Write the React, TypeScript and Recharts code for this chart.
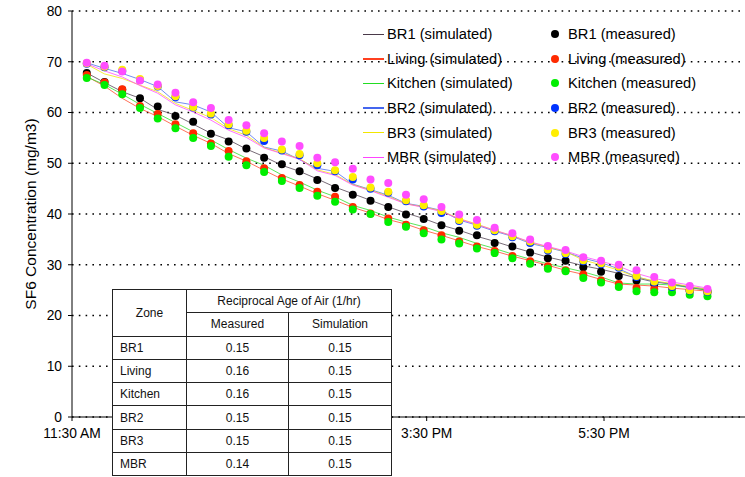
import { ComposedChart, Line, XAxis, YAxis, CartesianGrid } from "recharts";

const times = [
  "11:40", "11:52", "12:04", "12:16", "12:28", "12:40", "12:52", "13:04", "13:16", "13:28",
  "13:40", "13:52", "14:04", "14:16", "14:28", "14:40", "14:52", "15:04", "15:16", "15:28",
  "15:40", "15:52", "16:04", "16:16", "16:28", "16:40", "16:52", "17:04", "17:16", "17:28",
  "17:40", "17:52", "18:04", "18:16", "18:28", "18:40",
];

// 1:30 PM sits under the table in the original, so only the visible ones
const xTicks = ["11:30", "15:30", "17:30"];

// simulated
const br1Sim = [67.8, 65.9, 64.1, 62.8, 60.6, 59.5, 57.7, 55.9, 54.6, 52.8, 51.3, 49.6, 48.4, 46.9, 45.3, 44.0, 42.7, 41.4, 40.2, 39.1, 37.8, 36.8, 35.6, 34.6, 33.5, 32.5, 31.5, 30.7, 29.8, 29.1, 28.3, 27.4, 26.6, 26.2, 25.5, 25.0];
const livingSim = [67.1, 65.2, 62.8, 60.8, 59.2, 57.3, 55.5, 53.9, 51.9, 50.4, 48.6, 46.9, 45.5, 44.0, 42.7, 41.3, 40.2, 38.9, 38.0, 36.8, 35.8, 34.7, 33.6, 32.7, 31.7, 30.8, 29.9, 28.9, 28.1, 27.1, 26.2, 26.0, 25.8, 25.4, 25.1, 24.8];
const kitchenSim = [67.0, 65.5, 63.6, 61.6, 59.8, 58.0, 56.2, 54.6, 52.7, 51.0, 49.6, 47.7, 46.3, 44.7, 43.4, 41.7, 40.7, 39.4, 38.4, 37.5, 36.3, 35.4, 34.2, 33.2, 32.1, 31.1, 30.2, 29.4, 28.6, 27.6, 26.4, 26.2, 26.2, 26.0, 25.5, 25.0];
const br2Sim = [69.8, 68.7, 67.7, 66.5, 65.1, 62.1, 61.5, 60.1, 57.0, 56.2, 53.2, 52.4, 50.7, 49.0, 48.4, 45.9, 44.8, 43.7, 42.1, 41.5, 40.7, 38.8, 37.8, 36.6, 35.6, 34.2, 33.4, 32.5, 31.3, 30.4, 29.2, 27.6, 26.7, 26.2, 25.6, 25.2];
const br3Sim = [69.5, 67.6, 66.7, 65.4, 64.1, 61.8, 60.4, 59.0, 56.8, 55.5, 53.1, 52.0, 50.9, 48.7, 47.8, 45.8, 44.7, 43.5, 42.0, 41.4, 40.6, 39.1, 38.0, 36.8, 35.7, 34.4, 33.5, 32.6, 30.9, 30.0, 28.9, 27.6, 26.8, 26.3, 25.7, 25.2];
const mbrSim = [69.6, 68.2, 67.0, 65.3, 63.8, 61.5, 60.1, 58.5, 56.5, 55.1, 53.0, 51.9, 50.8, 48.5, 47.6, 45.7, 44.6, 43.3, 42.0, 41.3, 40.5, 39.0, 37.9, 36.8, 35.7, 34.5, 33.6, 32.7, 31.6, 30.7, 29.7, 28.3, 27.3, 26.6, 26.0, 25.4];

// measured
const br1Meas = [67.8, 66.0, 64.5, 62.8, 61.2, 59.3, 58.2, 55.8, 54.3, 52.9, 51.1, 49.8, 48.4, 46.7, 45.1, 43.8, 42.6, 41.4, 39.9, 39.0, 37.8, 36.7, 35.8, 34.3, 33.6, 32.4, 31.3, 30.8, 29.5, 28.6, 27.8, 26.9, 26.2, 25.7, 25.0, 24.8];
const livingMeas = [67.4, 65.9, 64.6, 61.3, 59.7, 57.7, 55.9, 53.9, 52.4, 50.4, 49.0, 47.1, 45.7, 44.4, 43.4, 41.4, 40.1, 39.1, 37.9, 36.8, 35.8, 34.6, 33.6, 32.7, 31.7, 30.7, 29.7, 28.9, 28.1, 26.9, 26.2, 25.4, 25.2, 25.4, 24.8, 24.5];
const kitchenMeas = [66.8, 65.4, 63.6, 60.9, 58.8, 56.9, 55.0, 53.4, 51.3, 49.6, 48.3, 46.5, 45.1, 43.6, 42.4, 40.9, 40.0, 38.4, 37.5, 36.2, 35.0, 34.2, 33.2, 32.3, 31.3, 30.2, 29.2, 28.7, 27.4, 26.5, 25.6, 24.8, 24.6, 24.6, 24.1, 23.8];
const br2Meas = [69.6, 68.9, 68.2, 66.4, 65.1, 63.0, 61.0, 59.6, 57.5, 56.2, 54.4, 52.5, 51.6, 49.6, 48.4, 46.8, 45.0, 44.2, 42.5, 41.5, 40.2, 38.6, 37.7, 36.6, 35.4, 34.3, 32.8, 32.1, 30.7, 30.1, 29.4, 27.6, 26.5, 25.6, 24.9, 24.7];
const br3Meas = [69.7, 69.0, 68.4, 66.6, 65.2, 63.2, 61.1, 59.8, 57.7, 56.4, 55.0, 52.7, 51.8, 50.0, 48.6, 47.3, 45.2, 44.4, 42.7, 41.7, 40.6, 38.8, 37.9, 36.8, 35.6, 34.6, 33.0, 32.3, 30.9, 30.3, 29.6, 27.8, 26.7, 25.8, 25.0, 24.8];
const mbrMeas = [69.8, 69.2, 68.1, 66.3, 65.5, 63.9, 62.0, 60.9, 58.5, 57.5, 55.9, 54.3, 53.4, 51.1, 50.2, 48.9, 46.8, 46.1, 43.8, 42.9, 41.4, 39.9, 38.8, 37.3, 36.2, 35.0, 33.7, 32.9, 31.5, 30.8, 30.0, 28.9, 27.6, 26.5, 25.8, 25.2];

// table
const zones = ["BR1", "Living", "Kitchen", "BR2", "BR3", "MBR"];
const raaMeasured = ["0.15", "0.16", "0.16", "0.15", "0.15", "0.14"];
const raaSimulated = ["0.15", "0.15", "0.15", "0.15", "0.15", "0.15"];

const toHours = (s: string) => {
  const [h, m] = s.split(":").map(Number);
  return h + m / 60;
};

const fmtTime = (v: number) => {
  const h = Math.floor(v + 1e-6);
  const m = Math.round((v - h) * 60);
  const ampm = h >= 12 ? "PM" : "AM";
  const h12 = h > 12 ? h - 12 : h;
  return `${h12}:${String(m).padStart(2, "0")} ${ampm}`;
};

const simSeries = [
  { key: "br1Sim", name: "BR1 (simulated)", vals: br1Sim, color: "#4a3a4a" },
  { key: "livingSim", name: "Living (simulated)", vals: livingSim, color: "#ff4020" },
  { key: "kitchenSim", name: "Kitchen (simulated)", vals: kitchenSim, color: "#22dd22" },
  { key: "br2Sim", name: "BR2 (simulated)", vals: br2Sim, color: "#4466ee" },
  { key: "br3Sim", name: "BR3 (simulated)", vals: br3Sim, color: "#f2e600" },
  { key: "mbrSim", name: "MBR (simulated)", vals: mbrSim, color: "#ff44ff" },
];

const measSeries = [
  { key: "br1Meas", name: "BR1 (measured)", vals: br1Meas, color: "#000000" },
  { key: "livingMeas", name: "Living (measured)", vals: livingMeas, color: "#ff2a00" },
  { key: "kitchenMeas", name: "Kitchen (measured)", vals: kitchenMeas, color: "#00ee00" },
  { key: "br2Meas", name: "BR2 (measured)", vals: br2Meas, color: "#0033ff" },
  { key: "br3Meas", name: "BR3 (measured)", vals: br3Meas, color: "#ffee00" },
  { key: "mbrMeas", name: "MBR (measured)", vals: mbrMeas, color: "#ff4dff" },
];

const rows = times.map((t, i) => {
  const row: Record<string, number> = { t: toHours(t) };
  simSeries.forEach((s) => (row[s.key] = s.vals[i]));
  measSeries.forEach((s) => (row[s.key] = s.vals[i]));
  return row;
});

const font = '"Liberation Sans", Arial, sans-serif';

const YLabel = ({ viewBox }: any) => {
  const cx = 30;
  const cy = viewBox.y + viewBox.height / 2;
  return (
    <text x={cx} y={cy} transform={`rotate(-90 ${cx} ${cy})`} textAnchor="middle" dominantBaseline="central" fontSize={15.5} fill="#000">
      SF6 Concentration (mg/m3)
    </text>
  );
};

const Legend2 = () => (
  <div style={{ position: "absolute", left: 0, top: 22, fontSize: 14.7, color: "#000" }}>
    {simSeries.map((s, i) => (
      <div key={s.key} style={{ position: "absolute", top: i * 24.6, height: 24.6, display: "flex", alignItems: "center", width: 400 }}>
        <div style={{ position: "absolute", left: 363, width: 21, height: 1.5, background: s.color }} />
        <span style={{ position: "absolute", left: 387, whiteSpace: "nowrap" }}>{s.name}</span>
        <div style={{ position: "absolute", left: 551, width: 8, height: 8, borderRadius: 4, background: measSeries[i].color }} />
        <span style={{ position: "absolute", left: 568, whiteSpace: "nowrap" }}>{measSeries[i].name}</span>
      </div>
    ))}
  </div>
);

const cell: React.CSSProperties = { border: "1px solid #222", padding: 0, textAlign: "center" };

const RaaTable = () => (
  <table
    style={{
      position: "absolute", left: 112, top: 289, width: 279, borderCollapse: "collapse",
      background: "#fff", fontSize: 12, fontFamily: font, color: "#111", tableLayout: "fixed",
    }}
  >
    <colgroup>
      <col style={{ width: 74 }} />
      <col style={{ width: 102 }} />
      <col style={{ width: 103 }} />
    </colgroup>
    <tbody>
      <tr style={{ height: 23.3 }}>
        <td rowSpan={2} style={cell}>Zone</td>
        <td colSpan={2} style={cell}>Reciprocal Age of Air (1/hr)</td>
      </tr>
      <tr style={{ height: 23.3 }}>
        <td style={cell}>Measured</td>
        <td style={cell}>Simulation</td>
      </tr>
      {zones.map((z, i) => (
        <tr key={z} style={{ height: 23.3 }}>
          <td style={{ ...cell, textAlign: "left", paddingLeft: 7 }}>{z}</td>
          <td style={cell}>{raaMeasured[i]}</td>
          <td style={cell}>{raaSimulated[i]}</td>
        </tr>
      ))}
    </tbody>
  </table>
);

export default function App() {
  return (
    <div style={{ position: "absolute", left: 0, top: 0, width: 745, height: 477, background: "#fff", fontFamily: font, overflow: "hidden" }}>
      <ComposedChart width={745} height={477} data={rows} margin={{ top: 11, right: 0, bottom: 0, left: 0 }}>
        <CartesianGrid vertical={false} stroke="#000" strokeWidth={1.3} strokeDasharray="1.6 5.2" />
        <XAxis
          dataKey="t"
          type="number"
          domain={[11.5, 19.09]}
          ticks={xTicks.map(toHours)}
          tickFormatter={fmtTime}
          height={60}
          tickSize={4}
          tickMargin={7}
          stroke="#000"
          tick={{ fill: "#000", fontSize: 13.8 }}
          allowDataOverflow
        />
        <YAxis
          domain={[0, 80]}
          ticks={[0, 10, 20, 30, 40, 50, 60, 70, 80]}
          width={72}
          tickSize={4}
          tickMargin={6}
          stroke="#000"
          tick={{ fill: "#000", fontSize: 13.8 }}
          label={<YLabel />}
          allowDataOverflow
        />
        {simSeries.map((s) => (
          <Line key={s.key} dataKey={s.key} name={s.name} stroke={s.color} strokeOpacity={0.75} strokeWidth={1} dot={false} activeDot={false} isAnimationActive={false} type="linear" />
        ))}
        {measSeries.map((s) => (
          <Line
            key={s.key}
            dataKey={s.key}
            name={s.name}
            stroke="none"
            dot={{ r: 4, fill: s.color, stroke: "none" }}
            activeDot={false}
            isAnimationActive={false}
          />
        ))}
      </ComposedChart>
      <Legend2 />
      <RaaTable />
    </div>
  );
}
